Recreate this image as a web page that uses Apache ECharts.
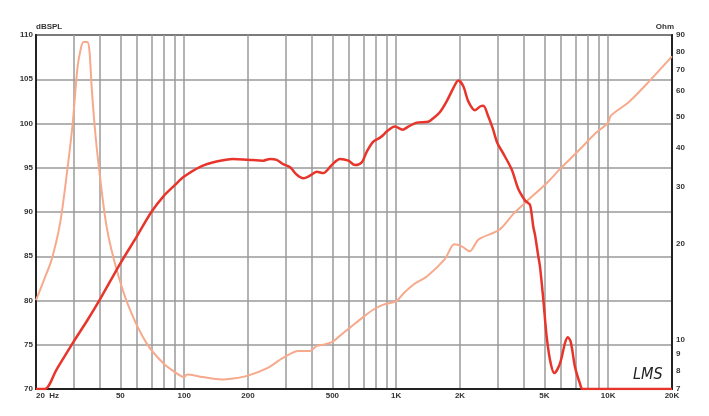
<!DOCTYPE html>
<html>
<head>
<meta charset="utf-8">
<script src="https://cdn.jsdelivr.net/npm/echarts@6/dist/echarts.min.js"></script>
<style>
html,body{margin:0;padding:0;background:#fff;}
#c{width:709px;height:416px;}
</style>
</head>
<body>
<div id="c"></div>
<script>
// SPL response (Hz, dB)
var splFreq = [20,22,25,30,35,40,50,60,70,80,90,100,119,142,170,200,236,254,273,293,316,340,365,392,422,453,496,543,595,639,688,726,780,839,870,902,987,1073,1140,1250,1417,1496,1610,1730,1860,1964,2074,2188,2354,2500,2576,2720,2850,3000,3202,3507,3768,4052,4150,4278,4359,4435,4518,4681,4770,4944,5128,5356,5570,5926,6257,6442,6654,6974,7362,7583,20000];
var splDb   = [70,70,72.2,75.3,77.8,80.1,84.2,87.3,90.0,91.8,93.0,94.0,95.1,95.7,96.0,95.9,95.8,96.0,95.9,95.4,95.05,94.2,93.8,94.1,94.55,94.4,95.3,96.0,95.8,95.3,95.6,96.8,97.95,98.4,98.7,99.1,99.65,99.3,99.65,100.1,100.2,100.6,101.3,102.5,104.0,104.85,104.2,102.5,101.5,101.95,102.0,100.8,99.5,97.8,96.6,94.8,92.6,91.3,91.1,90.8,89.7,88.3,87.4,85.0,83.8,80.1,75.9,72.9,71.8,72.9,75.2,75.85,75.35,72.5,70.6,70,70];
// Impedance (Hz, Ohm)
var zFreq = [20,22,23.7,26,28.1,29.8,31.3,32.3,33.5,34.9,35.7,36.6,37.9,39.4,43.1,48.1,55.5,66.5,79.7,92.2,100,103,122,150,170,200,245,293,346,392,421,460,503,545,606,698,779,871,1000,1085,1212,1400,1700,1880,2040,2220,2450,3070,3580,4100,5120,6000,7340,8710,9960,10300,12600,15800,20000];
var zOhm  = [13.3,15.6,17.8,23.2,34,47.7,70,79.8,85.5,85.5,80.9,62,46,35.7,22.5,16.5,12.4,9.73,8.43,7.84,7.63,7.77,7.63,7.5,7.55,7.71,8.12,8.76,9.2,9.2,9.55,9.66,9.86,10.3,10.9,11.76,12.4,12.87,13.2,13.97,14.9,15.8,17.9,19.9,19.6,18.9,20.6,22.1,24.8,27.0,30.9,34.5,39.4,44.3,47.7,50.3,55.7,65.0,77.1];
// Axis ticks
var freqGrid   = [20,30,40,50,60,70,80,90,100,200,300,400,500,600,700,800,900,1000,2000,3000,4000,5000,6000,7000,8000,9000,10000,20000];
var freqLabels = [20,50,100,200,500,1000,2000,5000,10000,20000];
var ohmTicks   = [7,8,9,10,20,30,40,50,60,70,80,90];

function pairs(xs, ys){ var r=[]; for(var i=0;i<xs.length;i++) r.push([xs[i], ys[i]]); return r; }
function fmtF(v){
  v = Math.round(v);
  if (v === 20) return '20  Hz';
  if (v >= 1000) return (v/1000) + 'K';
  return String(v);
}
var labelFont = { fontFamily: 'Liberation Sans, Arial, sans-serif', fontSize: 8, fontWeight: 'bold', color: '#333' };

var chart = echarts.init(document.getElementById('c'), null, {renderer:'canvas'});
chart.setOption({
  animation: false,
  backgroundColor: '#fff',
  grid: { left: 36, right: 37, top: 35, bottom: 27, show: true, borderColor: '#222', borderWidth: 2, outerBoundsMode: 'none' },
  xAxis: {
    type: 'log', logBase: 10, min: 20, max: 20000,
    axisLine: { show: true, lineStyle: { color: '#222', width: 2 } },
    axisTick: { show: false, customValues: freqGrid },
    minorTick: { show: false },
    splitLine: { show: true, lineStyle: { color: '#9a9a9a', width: 1.5 } },
    axisLabel: Object.assign({ margin: 3, customValues: freqLabels, formatter: fmtF, alignMinLabel: 'left' }, labelFont)
  },
  yAxis: [{
    type: 'value', min: 70, max: 110, interval: 5, position: 'left',
    name: 'dBSPL', nameLocation: 'end', nameGap: 3,
    nameTextStyle: Object.assign({ align: 'left', verticalAlign: 'bottom', padding: [0,0,0,0] }, labelFont),
    axisLine: { show: true, lineStyle: { color: '#222', width: 2 } },
    axisTick: { show: false },
    splitLine: { show: true, lineStyle: { color: '#9a9a9a', width: 1.5 } },
    axisLabel: Object.assign({ margin: 3 }, labelFont)
  }, {
    type: 'log', logBase: 10, min: 7, max: 90, position: 'right',
    name: 'Ohm', nameLocation: 'end', nameGap: 3,
    nameTextStyle: Object.assign({ align: 'right', verticalAlign: 'bottom', padding: [0,-2,0,0] }, labelFont),
    axisLine: { show: true, lineStyle: { color: '#222', width: 2 } },
    axisTick: { show: false, customValues: ohmTicks },
    splitLine: { show: false },
    axisLabel: Object.assign({ margin: 4, customValues: ohmTicks, formatter: function(v){ return String(Math.round(v)); } }, labelFont)
  }],
  graphic: [{
    type: 'text', left: 633, top: 367,
    style: { text: 'LMS', font: 'italic 16px "DejaVu Sans Condensed", "DejaVu Sans", sans-serif', fill: '#222' }
  }],
  series: [{
    name: 'Impedance', type: 'line', yAxisIndex: 1, data: pairs(zFreq, zOhm),
    showSymbol: false, smooth: 0.3, lineStyle: { color: '#f7a98c', width: 2 }, z: 3
  }, {
    name: 'SPL', type: 'line', yAxisIndex: 0, data: pairs(splFreq, splDb),
    showSymbol: false, smooth: 0.3, lineStyle: { color: '#e8352b', width: 2.5 }, z: 4
  }]
});
</script>
</body>
</html>
